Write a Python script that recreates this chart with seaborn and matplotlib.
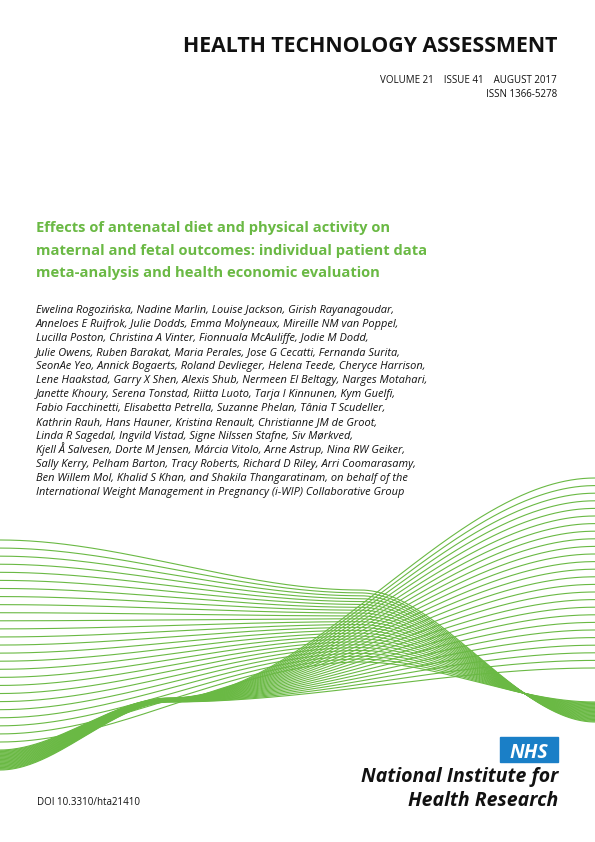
import numpy as np
import pandas as pd
import matplotlib
matplotlib.use("Agg")
import matplotlib.pyplot as plt
import seaborn as sns
from matplotlib.patches import Rectangle

sns.set_theme(style="white")
plt.rcParams['font.family'] = ['Open Sans', 'DejaVu Sans']

GREEN = "#6ab944"

header = "HEALTH TECHNOLOGY ASSESSMENT"
issue = "VOLUME 21    ISSUE 41    AUGUST 2017"
issn = "ISSN 1366-5278"
title_lines = ["Effects of antenatal diet and physical activity on",
               "maternal and fetal outcomes: individual patient data",
               "meta-analysis and health economic evaluation"]
author_lines = [
    "Ewelina Rogozińska, Nadine Marlin, Louise Jackson, Girish Rayanagoudar,",
    "Anneloes E Ruifrok, Julie Dodds, Emma Molyneaux, Mireille NM van Poppel,",
    "Lucilla Poston, Christina A Vinter, Fionnuala McAuliffe, Jodie M Dodd,",
    "Julie Owens, Ruben Barakat, Maria Perales, Jose G Cecatti, Fernanda Surita,",
    "SeonAe Yeo, Annick Bogaerts, Roland Devlieger, Helena Teede, Cheryce Harrison,",
    "Lene Haakstad, Garry X Shen, Alexis Shub, Nermeen El Beltagy, Narges Motahari,",
    "Janette Khoury, Serena Tonstad, Riitta Luoto, Tarja I Kinnunen, Kym Guelfi,",
    "Fabio Facchinetti, Elisabetta Petrella, Suzanne Phelan, Tânia T Scudeller,",
    "Kathrin Rauh, Hans Hauner, Kristina Renault, Christianne JM de Groot,",
    "Linda R Sagedal, Ingvild Vistad, Signe Nilssen Stafne, Siv Mørkved,",
    "Kjell Å Salvesen, Dorte M Jensen, Márcia Vitolo, Arne Astrup, Nina RW Geiker,",
    "Sally Kerry, Pelham Barton, Tracy Roberts, Richard D Riley, Arri Coomarasamy,",
    "Ben Willem Mol, Khalid S Khan, and Shakila Thangaratinam, on behalf of the",
    "International Weight Management in Pregnancy (i-WIP) Collaborative Group",
]
doi = "DOI 10.3310/hta21410"
nihr_lines = ["National Institute for", "Health Research"]

# wave families: key x positions and top/bottom key y values
n_lines = 26
waveA_x = [0, 360, 595]
waveA_top = [540, 590, 722]
waveA_bot = [742, 662, 702]
waveB_x = [0, 170, 595]
waveB_top = [750, 698, 478]
waveB_bot = [770, 702, 668]

def smooth_curve(kx, ky, x):
    y = np.empty_like(x)
    for i in range(len(kx) - 1):
        m = (x >= kx[i]) & (x <= kx[i + 1])
        t = (x[m] - kx[i]) / (kx[i + 1] - kx[i])
        s = t * t * (3 - 2 * t)
        y[m] = ky[i] + (ky[i + 1] - ky[i]) * s
    return y

xs = np.linspace(0, 595, 300)
rows = []
for fam, kx, top, bot in [("A", waveA_x, waveA_top, waveA_bot), ("B", waveB_x, waveB_top, waveB_bot)]:
    for k in range(n_lines):
        f = k / (n_lines - 1)
        ky = [a + (b - a) * f for a, b in zip(top, bot)]
        ys = smooth_curve(kx, ky, xs)
        rows.append(pd.DataFrame({"x": xs, "y": ys, "line": f"{fam}{k}"}))
df = pd.concat(rows)

fig = plt.figure(figsize=(5.95, 8.42), dpi=100)
ax = fig.add_axes([0, 0, 1, 1])
sns.lineplot(data=df, x="x", y="y", units="line", estimator=None, color=GREEN,
             lw=0.8, ax=ax, legend=False, sort=False)
ax.set_xlim(0, 595)
ax.set_ylim(842, 0)
ax.axis("off")

ax.text(557, 52, header, ha="right", va="baseline", fontsize=15.3, fontweight="bold", color="#111")
ax.text(557, 83, issue, ha="right", va="baseline", fontsize=7.0, color="#111")
ax.text(557, 97, issn, ha="right", va="baseline", fontsize=7.0, color="#111")
for i, t in enumerate(title_lines):
    ax.text(36, 232 + i * 22.5, t, ha="left", va="baseline", fontsize=10.6,
            fontweight="bold", color=GREEN)
for i, t in enumerate(author_lines):
    ax.text(36, 313 + i * 14, t, ha="left", va="baseline", fontsize=7.9,
            style="italic", color="#111")
ax.text(37, 805, doi, ha="left", va="baseline", fontsize=7.0, color="#111")
ax.add_patch(Rectangle((500, 737), 58, 25, color="#1a7fc7", zorder=3))
ax.text(529, 758, "NHS", ha="center", va="baseline", fontsize=14, fontweight="bold",
        style="italic", color="white", zorder=4)
ax.text(558, 782, nihr_lines[0], ha="right", va="baseline", fontsize=14,
        fontweight="bold", style="italic", color="#111")
ax.text(558, 806, nihr_lines[1], ha="right", va="baseline", fontsize=14,
        fontweight="bold", style="italic", color="#111")

fig.savefig("out.png", dpi=100)
